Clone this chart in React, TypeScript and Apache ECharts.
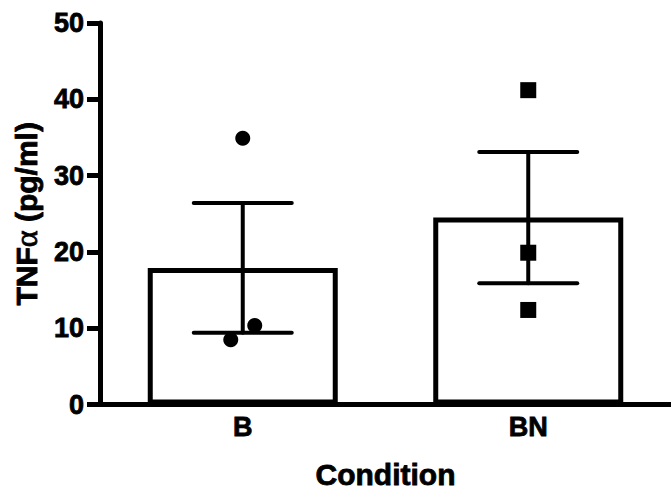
import React, { useEffect, useRef } from "react";
import * as echarts from "echarts";

const categories = ["B", "BN"];
const means = [17.9, 24.5];
const sems = [8.5, 8.6];
const pointsB = [34.9, 8.5, 10.35];
const jitterB = [0, -0.042, 0.042];
const pointsBN = [41.2, 19.9, 12.4];
const jitterBN = [0, 0, 0];
const yTicks = { min: 0, max: 50, interval: 10 };

export default function App() {
  const ref = useRef<HTMLDivElement>(null);
  useEffect(() => {
    if (!ref.current) return;
    const chart = echarts.init(ref.current, null, { renderer: "svg" });
    const font = "Liberation Sans, Arial, sans-serif";
    const heavy = { textBorderColor: "#000", textBorderWidth: 0.8 };
    const errData = categories.map((c, i) => [i, means[i] + sems[i], means[i] - sems[i]]);
    chart.setOption({
      animation: false,
      backgroundColor: "#ffffff",
      grid: { left: 100, right: -3, top: 23, bottom: 88, containLabel: false },
      xAxis: [
        {
          type: "category",
          data: categories,
          axisLine: { onZero: false, lineStyle: { color: "#000", width: 5 } },
          axisTick: { show: false },
          axisLabel: { color: "#000", fontFamily: font, fontWeight: "bold", fontSize: 27, margin: 9, ...heavy },
          name: "Condition",
          nameLocation: "middle",
          nameGap: 55,
          nameTextStyle: { color: "#000", fontFamily: font, fontWeight: "bold", fontSize: 30, ...heavy },
          z: 1,
        },
        { type: "value", min: -0.5, max: 1.5, show: false },
      ],
      yAxis: {
        type: "value",
        min: yTicks.min,
        max: yTicks.max,
        interval: yTicks.interval,
        axisLine: { show: true, onZero: false, lineStyle: { color: "#000", width: 5 } },
        axisTick: { show: true, length: 13, lineStyle: { color: "#000", width: 5 } },
        splitLine: { show: false },
        axisLabel: { color: "#000", fontFamily: font, fontWeight: "bold", fontSize: 27, margin: 16, ...heavy },
        name: "TNF{a|α} (pg/ml)",
        nameLocation: "middle",
        nameGap: 58,
        nameRotate: 90,
        nameTextStyle: {
          color: "#000",
          fontFamily: font,
          fontWeight: "bold",
          fontSize: 30,
          ...heavy,
          rich: { a: { fontFamily: "Liberation Serif, serif", fontWeight: "normal", fontSize: 32, color: "#000" } },
        },
      },
      series: [
        {
          type: "bar",
          data: means,
          barWidth: 190,
          itemStyle: { color: "#fff", borderColor: "#000", borderWidth: 5 },
          z: 2,
        },
        {
          type: "custom",
          data: errData,
          z: 4,
          renderItem: (params: any, api: any) => {
            const x = api.value(0);
            const hi = api.coord([x, api.value(1)]);
            const lo = api.coord([x, api.value(2)]);
            const hw = 49;
            const style = { stroke: "#000", lineWidth: 4, lineCap: "round" };
            return {
              type: "group",
              children: [
                { type: "line", shape: { x1: hi[0], y1: hi[1], x2: lo[0], y2: lo[1] }, style },
                { type: "line", shape: { x1: hi[0] - hw, y1: hi[1], x2: hi[0] + hw, y2: hi[1] }, style },
                { type: "line", shape: { x1: lo[0] - hw, y1: lo[1], x2: lo[0] + hw, y2: lo[1] }, style },
              ],
            };
          },
        },
        {
          type: "scatter",
          xAxisIndex: 1,
          data: pointsB.map((v, i) => [0 + jitterB[i], v]),
          symbol: "circle",
          symbolSize: 15,
          itemStyle: { color: "#000", opacity: 1 },
          z: 5,
        },
        {
          type: "scatter",
          xAxisIndex: 1,
          data: pointsBN.map((v, i) => [1 + jitterBN[i], v]),
          symbol: "rect",
          symbolSize: 16,
          itemStyle: { color: "#000", opacity: 1 },
          z: 5,
        },
      ],
    });
    return () => chart.dispose();
  }, []);
  return (
    <div
      ref={ref}
      style={{ position: "absolute", left: 0, top: 0, width: 671, height: 495, background: "#fff" }}
    />
  );
}
